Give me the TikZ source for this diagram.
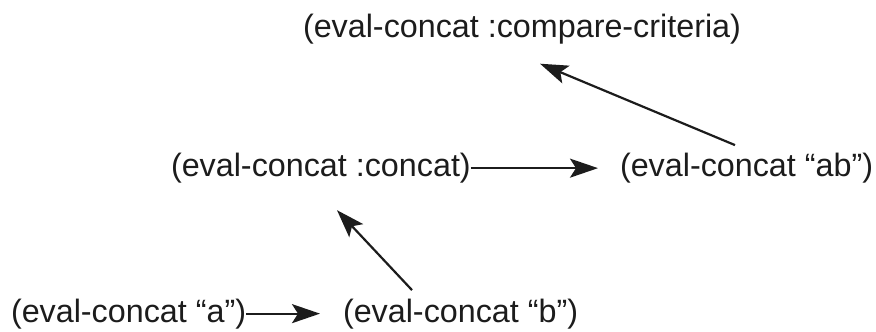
\documentclass[tikz,border=0pt]{standalone}
\usepackage{fontspec}
\setmainfont{Liberation Sans}
\usetikzlibrary{arrows.meta}
\definecolor{ink}{HTML}{1C1C1C}
\begin{document}
\begin{tikzpicture}[x=1pt,y=-1pt,
  expr/.style={anchor=base west, inner sep=0pt, outer sep=0pt, text=ink,
    font=\fontsize{32.3}{38}\selectfont},
  arr/.style={draw=ink, line width=2.2pt,
    -{Stealth[length=28pt, width=19pt, inset=6pt]}}]
\useasboundingbox (0,0) rectangle (876,332);

% expressions
\node[expr] (top)    at (303,37)    {(eval-concat :compare-criteria)};
\node[expr] (concat) at (171,176.5) {(eval-concat :concat)};
\node[expr] (ab)     at (620,176.5) {(eval-concat “ab”)};
\node[expr] (a)      at (11,322)    {(eval-concat “a”)};
\node[expr] (b)      at (343,322)   {(eval-concat “b”)};

% dependencies
\draw[arr, shorten >=22pt] (concat.east) -- (ab.west);
\draw[arr, shorten >=23pt] (a.east) -- (b.west);
\draw[arr] ([xshift=115pt,yshift=8pt]ab.north west)
        -- ([xshift=237pt,yshift=-20pt]top.south west);
\draw[arr] ([xshift=69pt,yshift=8.5pt]b.north west)
        -- ([xshift=166pt,yshift=-27pt]concat.south west);
\end{tikzpicture}
\end{document}
